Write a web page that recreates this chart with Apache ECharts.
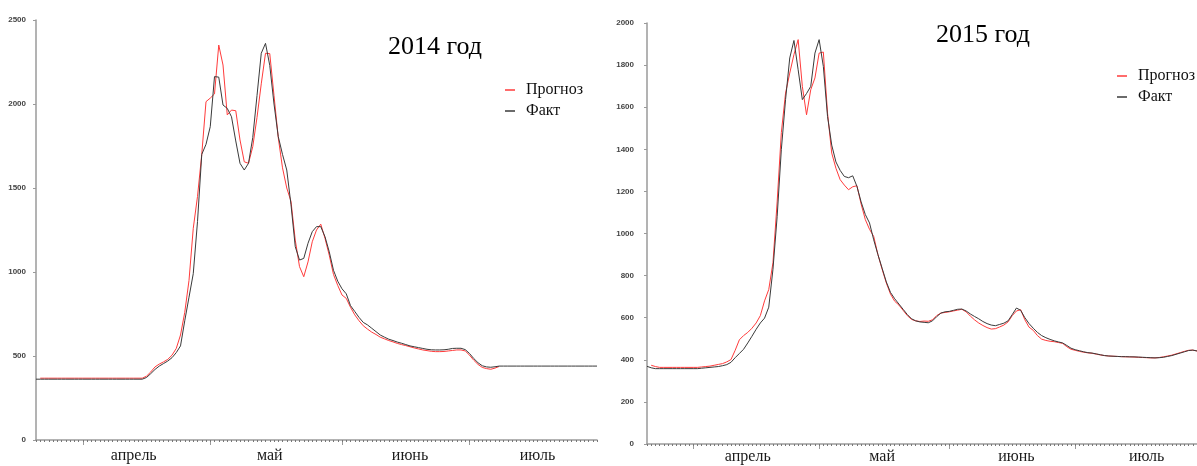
<!DOCTYPE html>
<html><head><meta charset="utf-8">
<script src="https://cdn.jsdelivr.net/npm/echarts@6/dist/echarts.min.js"></script>
<style>html,body{margin:0;padding:0;background:#fff}#c{width:1197px;height:466px}</style>
</head><body><div id="c"></div><script>
// ---- DATA ----
const monthNames = ['апрель', 'май', 'июнь', 'июль'];
const seriesNames = ['Прогноз', 'Факт'];
const titles = ['2014 год', '2015 год'];
const start2014 = '2014-03-21';
const start2015 = '2015-03-21';
const labelDates2014 = ['2014-04-13', '2014-05-15', '2014-06-17', '2014-07-17'];
const labelDates2015 = ['2015-04-14', '2015-05-16', '2015-06-17', '2015-07-18'];
const yTicks2014 = [0, 2500, 500];
const yTicks2015 = [0, 2000, 200];

const fact2014 = [
  362,362,362,362,362,362,362,362,362,362,362,362,362,362,362,362,362,362,362,362,362,362,362,362,362,362,
  372,395,420,440,455,470,490,520,560,710,850,990,1300,1700,1760,1865,2163,2160,1994,1974,
  1924,1780,1647,1607,1647,1800,2050,2302,2361,2230,2000,1806,1700,1607,1400,1151,1071,1081,1171,1240,
  1270,1270,1210,1120,1010,945,900,870,800,765,730,700,685,665,645,625,612,600,592,583,
  576,568,560,555,550,545,540,537,536,536,537,540,545,546,546,538,515,485,460,442,
  435,433,436,440,
  440,440,440,440,440,440,440,440,440,440,440,440,440,440,440,440,440,440,440,440,440,440,440
];
const forecast2014 = [
  null,
  368,368,368,368,368,368,368,368,368,368,368,368,368,368,368,368,368,368,368,368,368,368,368,368,368,
  380,405,435,452,465,480,505,545,625,760,950,1260,1450,1700,2014,2035,2060,2351,2232,1935,
  1964,1960,1786,1656,1647,1746,1920,2120,2302,2300,2050,1800,1620,1500,1420,1190,1032,972,1060,1180,
  1250,1285,1200,1100,985,920,863,843,790,745,710,680,660,642,628,612,602,592,584,575,
  568,562,555,548,542,536,532,528,526,526,527,530,533,536,536,530,505,475,450,432,
  425,421,428,438
];
const fact2015 = [
  369,362,358,358,358,358,358,358,358,358,358,358,358,
  360,362,364,366,368,372,377,388,410,430,450,480,512,545,575,598,650,830,1080,1400,1636,
  1834,1917,1778,1636,1665,1699,1857,1921,1794,1556,1420,1340,1300,1271,1265,1274,1224,1150,1090,1050,
  970,900,835,770,720,690,665,640,615,595,585,580,578,576,585,605,622,628,630,635,
  640,641,632,618,606,595,582,572,565,562,568,574,585,615,646,635,600,572,550,530,
  515,505,497,490,485,480,468,455,448,443,438,434,432,428,424,420,418,417,416,415,
  415,414,414,413,412,411,410,409,410,412,416,420,426,432,438,444,446,442
];
const forecast2015 = [
  null,374,368,364,364,364,364,364,364,364,364,364,364,
  366,368,370,374,378,382,390,401,445,495,515,530,550,575,610,680,734,861,1150,1480,1667,
  1762,1850,1921,1699,1564,1683,1739,1857,1862,1572,1382,1310,1256,1230,1208,1222,1227,1140,1066,1020,
  986,900,830,765,712,678,660,635,610,592,585,582,584,583,590,610,622,625,628,632,
  636,640,628,608,590,575,563,553,546,548,556,565,580,610,632,638,590,555,540,515,
  498,492,488,486,482,478,462,450,445,440,436,433,431,427,423,420,418,417,416,415,
  414,414,413,412,411,410,409,409,411,414,418,422,428,434,440,445,446,442
];

// ---- BUILD ----
function days(start, n) {
  const out = [];
  const t0 = new Date(start + 'T00:00:00Z').getTime();
  for (let i = 0; i < n; i++) out.push(new Date(t0 + i * 86400000).toISOString().slice(0, 10));
  return out;
}
const cats2014 = days(start2014, fact2014.length);
const cats2015 = days(start2015, fact2015.length);

const RED = '#ff3b3b', BLK = '#3a3a3a', AX = '#9a9a9a';
const serif = '"Liberation Serif", "Times New Roman", serif';

function mainX(grid, cats, labelDates) {
  return {
    type: 'category', gridIndex: grid, position: 'bottom', data: cats, boundaryGap: false,
    axisLine: { show: true, lineStyle: { color: AX, width: 1.5 } },
    axisTick: { show: true, interval: (i, v) => v.slice(8) === '01', length: 5, lineStyle: { color: AX, width: 1 } },
    axisLabel: {
      show: true, interval: (i, v) => labelDates.indexOf(v) >= 0,
      formatter: v => monthNames[labelDates.indexOf(v)] || '',
      fontFamily: serif, fontSize: 16, color: '#1a1a1a', margin: grid === 0 ? 8 : 5
    },
    splitLine: { show: false }
  };
}
function minorX(grid, cats) {
  return {
    type: 'category', gridIndex: grid, position: 'bottom', data: cats, boundaryGap: false,
    axisLine: { show: false },
    axisTick: { show: true, interval: 0, length: 2, lineStyle: { color: '#777', width: 1 } },
    axisLabel: { show: false }, splitLine: { show: false }
  };
}
function yAx(grid, t, margin) {
  return {
    type: 'value', gridIndex: grid, min: t[0], max: t[1], interval: t[2],
    splitLine: { show: false },
    axisLine: { show: true, lineStyle: { color: AX, width: 1.5 } },
    axisTick: { show: true, length: 3, lineStyle: { color: AX } },
    axisLabel: { formatter: v => String(v), fontFamily: '"Liberation Sans", Arial, sans-serif', fontSize: 8, fontWeight: 'bold', color: '#444', margin: margin }
  };
}
function line(name, data, xi, yi, color, w, z) {
  return {
    name, type: 'line', data, xAxisIndex: xi, yAxisIndex: yi, showSymbol: false, symbol: 'none',
    lineStyle: { color, width: w }, itemStyle: { color }, z, connectNulls: false, silent: true
  };
}
function legendAt(left, top) {
  return {
    orient: 'vertical', left, top, padding: 0, itemWidth: 10, itemHeight: 1.5, icon: 'rect', itemGap: 5,
    textStyle: { fontFamily: serif, fontSize: 16, color: '#111', lineHeight: 16, padding: [0, 0, 0, 6] },
    data: seriesNames
  };
}

const chart = echarts.init(document.getElementById('c'), null, { renderer: 'canvas' });
chart.setOption({
  animation: false,
  backgroundColor: '#fff',
  title: [
    { text: titles[0], left: 388, top: 34, padding: 0, textStyle: { fontFamily: serif, fontSize: 26, fontWeight: 'normal', color: '#000' } },
    { text: titles[1], left: 936, top: 22, padding: 0, textStyle: { fontFamily: serif, fontSize: 26, fontWeight: 'normal', color: '#000' } }
  ],
  legend: [legendAt(505, 82), legendAt(1117, 68)],
  grid: [
    { left: 36, right: 600, top: 20, bottom: 26 },
    { left: 647, right: 0, top: 23, bottom: 22 }
  ],
  xAxis: [mainX(0, cats2014, labelDates2014), minorX(0, cats2014), mainX(1, cats2015, labelDates2015), minorX(1, cats2015)],
  yAxis: [yAx(0, yTicks2014, 10), yAx(1, yTicks2015, 13)],
  series: [
    line(seriesNames[0], forecast2014, 0, 0, RED, 1, 2),
    line(seriesNames[1], fact2014, 0, 0, BLK, 1, 3),
    line(seriesNames[0], forecast2015, 2, 1, RED, 1, 2),
    line(seriesNames[1], fact2015, 2, 1, BLK, 1, 3)
  ]
});
</script></body></html>
